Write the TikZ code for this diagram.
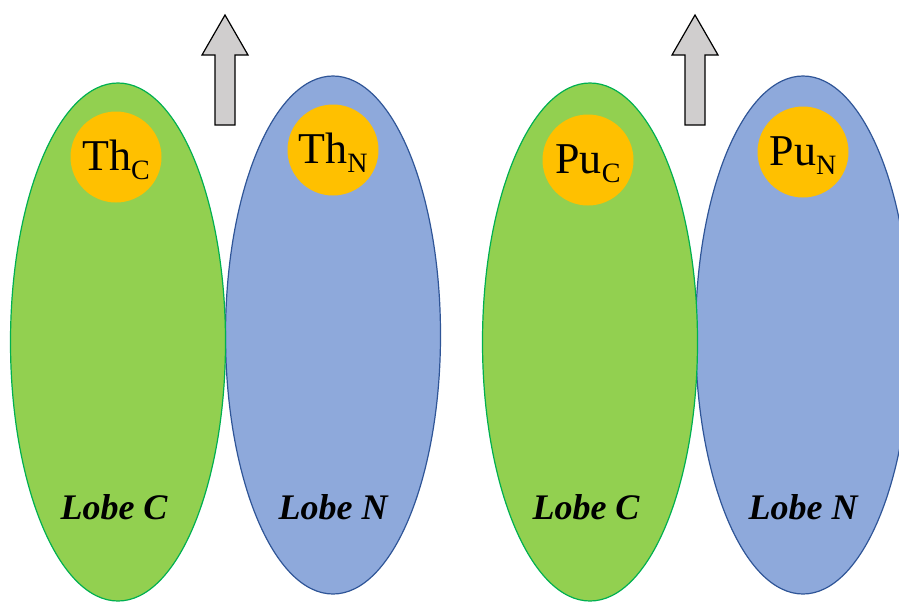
\documentclass[tikz,border=0pt]{standalone}
\usepackage{fontspec}
\setmainfont{Liberation Serif}
\usetikzlibrary{shapes.geometric}
\definecolor{lobec}{HTML}{92D050}
\definecolor{lobecborde}{HTML}{00B050}
\definecolor{loben}{HTML}{8EA9DB}
\definecolor{lobenborde}{HTML}{2F5597}
\definecolor{metal}{HTML}{FFC000}
\definecolor{flecha}{HTML}{D0CECE}

\begin{document}
\begin{tikzpicture}[x=1pt, y=-1pt,
    lobulo/.style={ellipse, minimum width=215pt, minimum height=518pt, line width=1.2pt, inner sep=0pt},
    atomo/.style={circle, fill=metal, minimum size=91pt, inner sep=0pt, text height=32pt, text depth=6pt,
                  font=\fontsize{44}{44}\selectfont},
    etiqueta/.style={anchor=base, font=\fontsize{36}{36}\selectfont\bfseries\itshape}]
	\useasboundingbox (0,0) rectangle (899,603);
	\foreach \n/\el/\xc/\xn/\yc/\yn/\fx in {th/Th/118/333/157/150/225, pu/Pu/590/803/160/152/695} {
		% lobulos
		\node[lobulo, fill=loben, draw=lobenborde] (\n-n) at (\xn, 335) {};
		\node[lobulo, fill=lobec, draw=lobecborde] (\n-c) at (\xc, 342) {};
		% atomos
		\node[atomo] (\n-ac) at (\xc-2, \yc) {\el\raisebox{-9pt}{\fontsize{28}{28}\selectfont C}};
		\node[atomo] (\n-an) at (\xn, \yn) {\el\raisebox{-9pt}{\fontsize{28}{28}\selectfont N}};
		\node[etiqueta] (\n-lc) at (\xc-4, 519) {Lobe C};
		\node[etiqueta] (\n-ln) at (\xn, 519) {Lobe N};
		% flecha
		\draw[fill=flecha, line width=1.2pt] (\fx-10,125) -- (\fx-10,55) -- (\fx-23,55) -- (\fx,15)
			-- (\fx+23,55) -- (\fx+10,55) -- (\fx+10,125) -- cycle;
	}
\end{tikzpicture}
\end{document}
